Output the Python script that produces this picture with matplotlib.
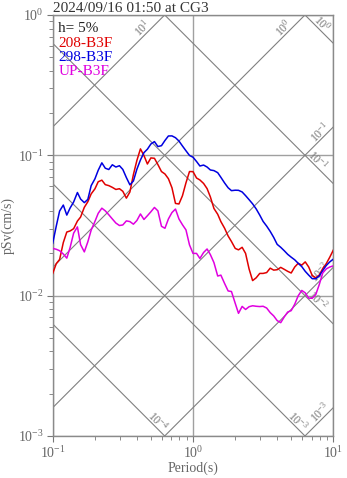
import numpy as np
import matplotlib
matplotlib.use("Agg")
import matplotlib.pyplot as plt
from matplotlib.ticker import LogLocator, NullFormatter

plt.rcParams['font.family'] = ['Liberation Serif', 'DejaVu Serif']
plt.rcParams['mathtext.default'] = 'regular'

# response spectrum, 5% damping, periods in s, pSv in cm/s
period = [0.1, 0.106, 0.112, 0.119, 0.126, 0.133, 0.141, 0.15, 0.158, 0.168,
          0.178, 0.188, 0.2, 0.211, 0.224, 0.237, 0.251, 0.266, 0.282, 0.299,
          0.316, 0.335, 0.355, 0.376, 0.398, 0.422, 0.447, 0.473, 0.501, 0.531,
          0.562, 0.596, 0.631, 0.668, 0.708, 0.75, 0.794, 0.841, 0.891, 0.944,
          1.0, 1.06, 1.12, 1.19, 1.26, 1.33, 1.41, 1.5, 1.58, 1.68,
          1.78, 1.88, 2.0, 2.11, 2.24, 2.37, 2.51, 2.66, 2.82, 2.99,
          3.16, 3.35, 3.55, 3.76, 3.98, 4.22, 4.47, 4.73, 5.01, 5.31,
          5.62, 5.96, 6.31, 6.68, 7.08, 7.5, 7.94, 8.41, 8.91, 9.44,
          10.0]

psv_208 = [0.0144, 0.0169, 0.0181, 0.0239, 0.0284, 0.0289, 0.0300, 0.0340, 0.0363, 0.0426,
           0.0467, 0.0531, 0.0577, 0.0648, 0.0665, 0.0618, 0.0608, 0.0591, 0.0571, 0.0578,
           0.0554, 0.0495, 0.0548, 0.0729, 0.0918, 0.1111, 0.0997, 0.0867, 0.0958, 0.0952,
           0.0859, 0.0766, 0.0736, 0.0681, 0.0587, 0.0454, 0.0450, 0.0515, 0.0637, 0.0766,
           0.0765, 0.0689, 0.0667, 0.0630, 0.0579, 0.0505, 0.0418, 0.0380, 0.0337, 0.0302,
           0.0266, 0.0243, 0.0217, 0.0212, 0.0221, 0.0200, 0.0155, 0.0128, 0.0134, 0.0144,
           0.0144, 0.0146, 0.0157, 0.0152, 0.0153, 0.0159, 0.0154, 0.0149, 0.0145, 0.0160,
           0.0170, 0.0165, 0.0174, 0.0160, 0.0139, 0.0134, 0.0140, 0.0156, 0.0169, 0.0188,
           0.0211]

psv_298 = [0.0236, 0.0313, 0.0401, 0.0442, 0.0375, 0.0421, 0.0465, 0.0543, 0.0488, 0.0460,
           0.0485, 0.0608, 0.0680, 0.0782, 0.0884, 0.0809, 0.0792, 0.0856, 0.0825, 0.0843,
           0.0793, 0.0694, 0.0616, 0.0656, 0.0795, 0.0926, 0.1044, 0.1105, 0.1204, 0.1252,
           0.1155, 0.1171, 0.1275, 0.1373, 0.1375, 0.1335, 0.1264, 0.1165, 0.1077, 0.0998,
           0.0969, 0.0903, 0.0839, 0.0852, 0.0825, 0.0786, 0.0778, 0.0752, 0.0697, 0.0635,
           0.0587, 0.0560, 0.0564, 0.0563, 0.0548, 0.0516, 0.0483, 0.0451, 0.0415, 0.0375,
           0.0338, 0.0313, 0.0287, 0.0260, 0.0232, 0.0221, 0.0209, 0.0197, 0.0188, 0.0180,
           0.0170, 0.0161, 0.0149, 0.0140, 0.0132, 0.0132, 0.0138, 0.0151, 0.0164, 0.0174,
           0.0182]

psv_up = [0.0217, 0.0214, 0.0209, 0.0198, 0.0185, 0.0220, 0.0279, 0.0309, 0.0231, 0.0205,
          0.0242, 0.0293, 0.0338, 0.0386, 0.0420, 0.0402, 0.0377, 0.0352, 0.0329, 0.0316,
          0.0319, 0.0341, 0.0337, 0.0323, 0.0343, 0.0382, 0.0349, 0.0371, 0.0396, 0.0425,
          0.0402, 0.0312, 0.0302, 0.0352, 0.0391, 0.0414, 0.0352, 0.0320, 0.0294, 0.0230,
          0.0200, 0.0200, 0.0184, 0.0203, 0.0215, 0.0196, 0.0172, 0.0138, 0.0140, 0.0122,
          0.0108, 0.0107, 0.00881, 0.00748, 0.00838, 0.00797, 0.00834, 0.00847, 0.00840, 0.00836,
          0.00840, 0.00816, 0.00757, 0.00717, 0.00664, 0.00642, 0.00705, 0.00764, 0.00782, 0.00869,
          0.00997, 0.01089, 0.01047, 0.00960, 0.00958, 0.01018, 0.01198, 0.01451, 0.0155, 0.0160,
          0.0163]

series_names = ["208-B3F", "298-B3F", "UP-B3F"]
series_colors = ["#e00000", "#0000e0", "#e000e0"]
damping_text = "h= 5%"
title_text = "2024/09/16 01:50 at CG3"

# tripartite guide lines: pseudo-acceleration (cm/s^2) and displacement (cm)
acc_levels = [1e1, 1e0, 1e-1, 1e-2, 1e-3]
acc_label_T = [0.47, 4.75, 8.6, 8.6, 8.6]
disp_levels = [1e0, 1e-1, 1e-2, 1e-3, 1e-4]
disp_label_T = [7.7, 7.27, 7.2, 5.24, 0.524]

fig = plt.figure(figsize=(3.47, 4.78), dpi=100)
ax = fig.add_axes([0.1519, 0.0879, 0.8086, 0.8808])
ax.set_xscale('log')
ax.set_yscale('log')
ax.set_xlim(0.1, 10)
ax.set_ylim(1e-3, 1)

guide = '#808080'
T_edge = np.array([0.1, 10.0])
for sa, tl in zip(acc_levels, acc_label_T):
    ax.plot(T_edge, sa * T_edge / (2 * np.pi), color=guide, lw=0.8, zorder=1)
    e = int(round(np.log10(sa)))
    ax.annotate(f"$10^{{{e}}}$", xy=(tl, sa * tl / (2 * np.pi)),
                xytext=(-3, 3), textcoords='offset points', rotation=45,
                ha='center', va='center', fontsize=8.5, color='#777777',
                rotation_mode='anchor', zorder=2)
for sd, tl in zip(disp_levels, disp_label_T):
    ax.plot(T_edge, 2 * np.pi * sd / T_edge, color=guide, lw=0.8, zorder=1)
    e = int(round(np.log10(sd)))
    ax.annotate(f"$10^{{{e}}}$", xy=(tl, 2 * np.pi * sd / tl),
                xytext=(3, 3), textcoords='offset points', rotation=-45,
                ha='center', va='center', fontsize=8.5, color='#777777',
                rotation_mode='anchor', zorder=2)

ax.grid(True, which='major', color='#a0a0a0', lw=1.0, zorder=0)
ax.set_axisbelow(True)

for vals, c in zip([psv_208, psv_298, psv_up], series_colors):
    ax.plot(period, vals, color=c, lw=1.1, zorder=3)

# colored series names in the upper-left corner
ax.text(0.02, 0.967, damping_text, transform=ax.transAxes, fontsize=11,
        color='#222222', va='center', ha='left', zorder=4)
for i, (name, c) in enumerate(zip(series_names, series_colors)):
    ax.text(0.02, 0.933 - i * 0.0335, name, transform=ax.transAxes,
            fontsize=11, color=c, va='center', ha='left', zorder=4)

for s in ax.spines.values():
    s.set_color('#8a8a8a')
    s.set_linewidth(1.0)

ax.xaxis.set_minor_locator(LogLocator(base=10, subs=np.arange(2, 10)))
ax.yaxis.set_minor_locator(LogLocator(base=10, subs=np.arange(2, 10)))
ax.xaxis.set_minor_formatter(NullFormatter())
ax.yaxis.set_minor_formatter(NullFormatter())
ax.tick_params(which='both', direction='out', color='#777777',
               labelcolor='#666666', labelsize=10, top=False, right=False)
ax.tick_params(which='major', length=4, pad=2.5)
ax.tick_params(which='minor', length=3)

ax.set_xlabel("Period(s)", fontsize=10, color='#666666', labelpad=0.5)
ax.set_ylabel("pSv(cm/s)", fontsize=10, color='#666666', labelpad=2)
ax.set_title(title_text, loc='left', fontsize=11, color='#333333', pad=2)

fig.savefig("out.png", dpi=100)
